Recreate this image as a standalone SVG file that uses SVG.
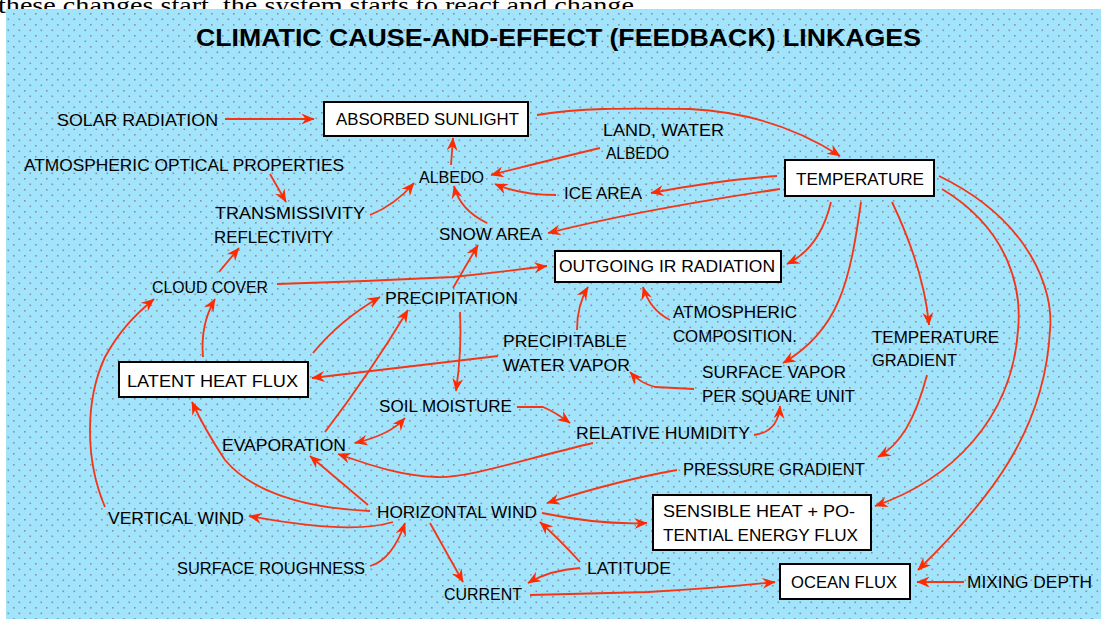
<svg xmlns="http://www.w3.org/2000/svg" width="1101" height="619" viewBox="0 0 1101 619">
<defs>
<pattern id="dots" width="11" height="11" patternUnits="userSpaceOnUse">
<rect width="11" height="11" fill="#a2e4fc"/>
<rect x="2" y="2" width="1.6" height="1.6" fill="#8693a0"/>
<rect x="7.5" y="7.5" width="1.6" height="1.6" fill="#8693a0"/>
</pattern>
<marker id="ah" viewBox="0 0 12 10" refX="11.5" refY="5" markerWidth="14" markerHeight="11" markerUnits="userSpaceOnUse" orient="auto-start-reverse">
<path d="M0,0 L12,5 L0,10 L4,5 Z" fill="#ff2a00"/>
</marker>
<style>
.t{font-family:"Liberation Sans","DejaVu Sans",Arial,sans-serif;font-size:16.5px;fill:#000}
.b{fill:#fff;stroke:#000;stroke-width:2}
.c path{fill:none;stroke:#f53514;stroke-width:1.8;marker-end:url(#ah)}
</style>
</defs>
<rect width="1101" height="619" fill="#fff"/>
<text x="-2" y="13" font-family="Liberation Serif,serif" font-size="24" textLength="657" lengthAdjust="spacingAndGlyphs">these changes start, the system starts to react and change...</text>
<rect x="6" y="9" width="1095" height="610" fill="url(#dots)"/>
<g id="title"><text x="196" y="46" font-family="Liberation Sans,DejaVu Sans,sans-serif" font-weight="bold" font-size="23" textLength="725" lengthAdjust="spacingAndGlyphs">CLIMATIC CAUSE-AND-EFFECT (FEEDBACK) LINKAGES</text></g>
<g class="c" id="connectors">
<path d="M225,119 L314,119"/>
<path d="M537,115 C580,108 620,108 690,109 C750,112 800,130 840,156"/>
<path d="M600,148 Q550,160 491,175"/>
<path d="M556,195 Q520,195 495,184"/>
<path d="M777,176 Q720,180 651,193"/>
<path d="M780,189 Q640,210 548,233"/>
<path d="M831,202 Q820,248 787,264"/>
<path d="M861,202 C850,280 840,330 783,363"/>
<path d="M892,202 C910,240 925,280 929,325"/>
<path d="M942,189 C1010,230 1022,290 1018,330 C1012,420 950,480 875,506"/>
<path d="M939,176 C1030,220 1054,290 1050,330 C1045,430 990,500 918,570"/>
<path d="M927,375 C915,420 900,445 878,457"/>
<path d="M277,284 L365,281 L453,277 Q500,272 547,266"/>
<path d="M219,272 L239,248"/>
<path d="M203,357 Q200,325 215,299"/>
<path d="M105,507 C85,460 85,400 105,357 C120,330 135,315 154,299"/>
<path d="M313,353 Q340,320 380,297"/>
<path d="M325,432 Q370,373 408,310"/>
<path d="M453,288 L478,245"/>
<path d="M460,312 Q462,350 456,391"/>
<path d="M498,356 Q400,368 312,378"/>
<path d="M577,330 Q577,305 588,287"/>
<path d="M670,320 Q650,310 643,287"/>
<path d="M694,389 L655,387 Q640,383 630,372"/>
<path d="M754,435 Q778,432 780,406"/>
<path d="M517,407 L543,407 Q555,412 570,423"/>
<path d="M355,443 Q390,435 405,418" style="marker-start:url(#ah)"/>
<path d="M593,443 C520,460 470,478 437,477 C400,476 370,465 338,454"/>
<path d="M368,505 L310,456"/>
<path d="M370,511 C300,508 250,490 225,460 Q205,430 192,402"/>
<path d="M393,522 Q350,535 249,516"/>
<path d="M370,566 Q392,560 405,523"/>
<path d="M430,523 L463,582"/>
<path d="M580,568 Q550,570 528,583"/>
<path d="M580,562 Q560,540 540,522"/>
<path d="M542,513 Q600,525 647,523"/>
<path d="M677,470 Q620,480 547,503"/>
<path d="M530,595 L648,592 Q720,588 775,582"/>
<path d="M964,582 L917,582"/>
<path d="M270,174 L286,202"/>
<path d="M370,215 Q395,205 414,183"/>
<path d="M451,165 L453,138"/>
<path d="M487,223 Q460,210 454,186"/>
</g>
<g id="solar"><text class="t" x="57" y="126" textLength="161" lengthAdjust="spacingAndGlyphs">SOLAR RADIATION</text></g>
<g id="absorbed"><rect class="b" x="324" y="102" width="204" height="34"/><text class="t" x="336" y="125" textLength="183" lengthAdjust="spacingAndGlyphs">ABSORBED SUNLIGHT</text></g>
<g id="landwater"><text class="t" x="603" y="136" textLength="121" lengthAdjust="spacingAndGlyphs">LAND, WATER</text><text class="t" x="606" y="159" textLength="63" lengthAdjust="spacingAndGlyphs">ALBEDO</text></g>
<g id="temperature"><rect class="b" x="785" y="160" width="149" height="36"/><text class="t" x="796" y="185" textLength="128" lengthAdjust="spacingAndGlyphs">TEMPERATURE</text></g>
<g id="aop"><text class="t" x="24" y="171" textLength="320" lengthAdjust="spacingAndGlyphs">ATMOSPHERIC OPTICAL PROPERTIES</text></g>
<g id="albedo"><text class="t" x="419" y="183" textLength="65" lengthAdjust="spacingAndGlyphs">ALBEDO</text></g>
<g id="ice"><text class="t" x="564" y="199" textLength="78" lengthAdjust="spacingAndGlyphs">ICE AREA</text></g>
<g id="trans"><text class="t" x="215" y="219" textLength="150" lengthAdjust="spacingAndGlyphs">TRANSMISSIVITY</text><text class="t" x="214" y="243" textLength="119" lengthAdjust="spacingAndGlyphs">REFLECTIVITY</text></g>
<g id="snow"><text class="t" x="439" y="240" textLength="103" lengthAdjust="spacingAndGlyphs">SNOW AREA</text></g>
<g id="outgoing"><rect class="b" x="555" y="251" width="226" height="31"/><text class="t" x="559" y="272" textLength="216" lengthAdjust="spacingAndGlyphs">OUTGOING IR RADIATION</text></g>
<g id="cloud"><text class="t" x="152" y="293" textLength="116" lengthAdjust="spacingAndGlyphs">CLOUD COVER</text></g>
<g id="precip"><text class="t" x="385" y="304" textLength="133" lengthAdjust="spacingAndGlyphs">PRECIPITATION</text></g>
<g id="atmcomp"><text class="t" x="673" y="318" textLength="124" lengthAdjust="spacingAndGlyphs">ATMOSPHERIC</text><text class="t" x="673" y="342" textLength="124" lengthAdjust="spacingAndGlyphs">COMPOSITION.</text></g>
<g id="pwv"><text class="t" x="503" y="347" textLength="124" lengthAdjust="spacingAndGlyphs">PRECIPITABLE</text><text class="t" x="503" y="371" textLength="127" lengthAdjust="spacingAndGlyphs">WATER VAPOR</text></g>
<g id="tgrad"><text class="t" x="872" y="343" textLength="127" lengthAdjust="spacingAndGlyphs">TEMPERATURE</text><text class="t" x="872" y="366" textLength="85" lengthAdjust="spacingAndGlyphs">GRADIENT</text></g>
<g id="latent"><rect class="b" x="119" y="362" width="189" height="35"/><text class="t" x="127" y="387" textLength="171" lengthAdjust="spacingAndGlyphs">LATENT HEAT FLUX</text></g>
<g id="surfvapor"><text class="t" x="702" y="378" textLength="144" lengthAdjust="spacingAndGlyphs">SURFACE VAPOR</text><text class="t" x="702" y="402" textLength="153" lengthAdjust="spacingAndGlyphs">PER SQUARE UNIT</text></g>
<g id="soil"><text class="t" x="379" y="412" textLength="133" lengthAdjust="spacingAndGlyphs">SOIL MOISTURE</text></g>
<g id="relhum"><text class="t" x="576" y="439" textLength="174" lengthAdjust="spacingAndGlyphs">RELATIVE HUMIDITY</text></g>
<g id="evap"><text class="t" x="222" y="451" textLength="124" lengthAdjust="spacingAndGlyphs">EVAPORATION</text></g>
<g id="pgrad"><text class="t" x="683" y="475" textLength="182" lengthAdjust="spacingAndGlyphs">PRESSURE GRADIENT</text></g>
<g id="sensible"><rect class="b" x="653" y="495" width="218" height="55"/><text class="t" x="663" y="517" textLength="192" lengthAdjust="spacingAndGlyphs">SENSIBLE HEAT + PO-</text><text class="t" x="663" y="541" textLength="195" lengthAdjust="spacingAndGlyphs">TENTIAL ENERGY FLUX</text></g>
<g id="hwind"><text class="t" x="377" y="518" textLength="160" lengthAdjust="spacingAndGlyphs">HORIZONTAL WIND</text></g>
<g id="vwind"><text class="t" x="108" y="524" textLength="136" lengthAdjust="spacingAndGlyphs">VERTICAL WIND</text></g>
<g id="rough"><text class="t" x="177" y="574" textLength="188" lengthAdjust="spacingAndGlyphs">SURFACE ROUGHNESS</text></g>
<g id="latitude"><text class="t" x="587" y="574" textLength="84" lengthAdjust="spacingAndGlyphs">LATITUDE</text></g>
<g id="current"><text class="t" x="444" y="600" textLength="78" lengthAdjust="spacingAndGlyphs">CURRENT</text></g>
<g id="ocean"><rect class="b" x="780" y="564" width="130" height="35"/><text class="t" x="791" y="588" textLength="106" lengthAdjust="spacingAndGlyphs">OCEAN FLUX</text></g>
<g id="mixing"><text class="t" x="967" y="588" textLength="125" lengthAdjust="spacingAndGlyphs">MIXING DEPTH</text></g>
</svg>
